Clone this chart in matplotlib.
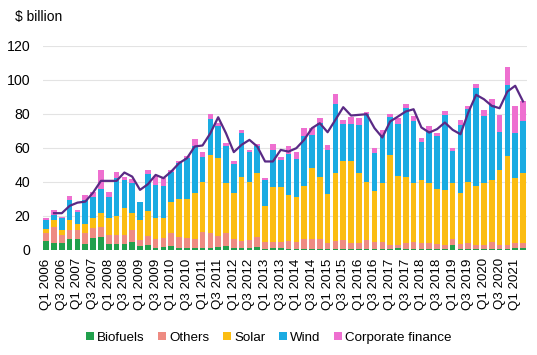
import matplotlib
matplotlib.use("Agg")
import matplotlib.pyplot as plt
import numpy as np

plt.rcParams['font.family'] = ['Liberation Sans', 'DejaVu Sans']

# quarters Q1 2006 .. Q2 2021
years = list(range(2006, 2022))
quarters = [f"Q{q} {y}" for y in years for q in range(1, 5)][:62]

# cumulative tops ($ billion)
biofuels = [5.5, 3.9, 4.3, 6.3, 6.3, 3.5, 6.9, 7.8, 3.3, 3.5, 3.5, 4.9, 2.4, 2.9, 1.0, 1.6,
            2.5, 1.0, 1.0, 1.0, 1.0, 1.0, 2.0, 2.4, 1.0, 1.0, 1.0, 2.0, 0.5, 1.0, 1.0, 0.4,
            0.3, 0.8, 0.8, 0.3, 0.3, 0.3, 0.3, 0.3, 0.3, 0.3, 0.3, 0.3, 0.3, 1.0, 0.3, 0.3,
            0.3, 0.3, 0.3, 0.3, 2.9, 0.3, 0.3, 0.3, 0.3, 0.3, 0.3, 0.3, 1.0, 1.0]
others_top = [9.8, 13.7, 8.8, 11.8, 11.8, 9.8, 12.7, 13.7, 8.8, 8.8, 8.8, 11.8, 5.9, 8.2, 6.3, 6.9,
              9.8, 7.5, 6.9, 6.3, 10.8, 9.8, 8.2, 10.2, 6.3, 5.5, 5.9, 7.5, 4.9, 4.9, 4.9, 5.5,
              4.9, 6.3, 6.3, 6.3, 4.3, 5.5, 5.9, 3.9, 3.9, 5.9, 4.9, 4.9, 2.9, 2.9, 3.9, 4.9,
              3.9, 3.9, 3.5, 2.9, 6.3, 3.5, 3.9, 2.9, 2.9, 4.9, 2.9, 2.9, 4.3, 4.3]
solar_top = [12.2, 17.3, 11.8, 17.6, 15.3, 15.3, 18.6, 21.6, 18.6, 20.0, 24.5, 21.6, 17.6, 22.9, 18.6, 18.6,
             28.4, 29.8, 29.8, 33.7, 40.2, 55.9, 53.9, 39.6, 33.7, 43.1, 40.2, 45.1, 25.9, 36.9, 36.9, 32.4,
             31.4, 37.6, 48.0, 43.1, 32.9, 45.5, 52.0, 52.5, 45.1, 40.2, 34.7, 39.6, 55.9, 43.5, 43.1, 39.2,
             41.2, 39.6, 35.7, 35.3, 39.2, 33.7, 40.2, 37.3, 39.6, 41.2, 46.7, 55.3, 42.2, 45.1]
wind_top = [17.6, 20.6, 18.6, 29.4, 22.0, 29.4, 31.4, 35.7, 31.4, 42.2, 41.2, 39.6, 28.0, 44.7, 38.2, 37.3,
            46.0, 51.0, 53.9, 60.8, 54.5, 76.9, 72.9, 61.2, 50.6, 69.0, 57.5, 61.2, 41.0, 58.8, 52.9, 56.5,
            53.3, 67.1, 67.6, 74.5, 58.8, 85.7, 74.1, 74.1, 73.5, 79.8, 56.9, 67.6, 78.0, 74.1, 83.3, 75.5,
            63.7, 70.0, 67.1, 79.4, 58.4, 73.5, 82.7, 95.1, 78.8, 85.3, 69.6, 97.1, 69.0, 75.9]
total = [19.0, 23.5, 19.2, 31.8, 23.5, 32.4, 34.3, 46.7, 34.1, 46.0, 43.1, 41.6, 28.4, 46.7, 43.5, 42.5,
         47.0, 52.0, 55.3, 65.1, 57.3, 79.8, 74.9, 62.7, 52.0, 70.6, 58.8, 62.2, 42.2, 62.4, 54.5, 60.8,
         57.6, 71.6, 71.6, 77.5, 61.8, 91.6, 76.5, 78.0, 77.8, 81.2, 60.2, 70.6, 79.8, 77.5, 85.9, 79.0,
         65.7, 72.9, 68.6, 81.4, 59.8, 76.5, 84.7, 97.6, 82.4, 88.6, 79.4, 107.8, 84.9, 87.8]
# trend line, starts at Q2 2006
trend = [None, 21.6, 21.6, 25.9, 27.8, 28.4, 33.7, 40.6, 40.6, 40.6, 45.5, 43.1, 35.3, 38.6, 44.1, 42.2,
         46.1, 51.0, 53.9, 60.8, 61.4, 68.6, 78.0, 68.6, 57.5, 61.8, 64.7, 60.8, 52.0, 52.0, 58.8, 57.8,
         59.8, 64.7, 71.6, 74.5, 69.2, 76.5, 83.9, 79.0, 79.4, 79.8, 71.6, 66.1, 75.5, 78.4, 81.4, 82.7,
         72.0, 69.0, 71.0, 74.9, 70.6, 68.0, 80.8, 91.2, 88.6, 84.7, 83.3, 93.1, 96.5, 87.3]

colors = {'Biofuels': '#21a04c', 'Others': '#ee8b82', 'Solar': '#fbbd12',
          'Wind': '#1aabe2', 'Corporate finance': '#ee6fd0'}

x = np.arange(len(quarters))
tops = [biofuels, others_top, solar_top, wind_top, total]
names = ['Biofuels', 'Others', 'Solar', 'Wind', 'Corporate finance']

fig = plt.figure(figsize=(5.37, 3.55), dpi=100)
ax = fig.add_axes([0.0795, 0.296, 0.901, 0.575])

prev = np.zeros(len(x))
for name, top in zip(names, tops):
    top = np.array(top)
    ax.bar(x, top - prev, bottom=prev, width=0.72, color=colors[name],
           label=name, zorder=2, linewidth=0)
    prev = top

tx = [i for i, v in enumerate(trend) if v is not None]
ty = [v for v in trend if v is not None]
ax.plot(tx, ty, color='#5a2a85', linewidth=1.6, zorder=3)

ax.set_xlim(-0.45, 61.45)
ax.set_ylim(0, 120)
ax.set_yticks(range(0, 121, 20))
ax.set_xticks(x[::2])
ax.set_xticklabels(quarters[::2], rotation=90, fontsize=9.6)
ax.tick_params(axis='y', length=0, pad=9, labelsize=10.2)
ax.tick_params(axis='x', length=0, pad=6)
ax.grid(axis='y', color='#e3e3e3', linewidth=0.8, zorder=0)
for s in ax.spines.values():
    s.set_visible(False)

fig.text(0.028, 0.953, '$ billion', fontsize=10, va='center', ha='left')

handles, labels = ax.get_legend_handles_labels()
fig.legend(handles, labels, loc='center', bbox_to_anchor=(0.5, 0.048), ncol=5,
           frameon=False, fontsize=9.6, handlelength=0.6, handleheight=0.6,
           handletextpad=0.25, columnspacing=1.0)

fig.savefig('out.png', dpi=100)
